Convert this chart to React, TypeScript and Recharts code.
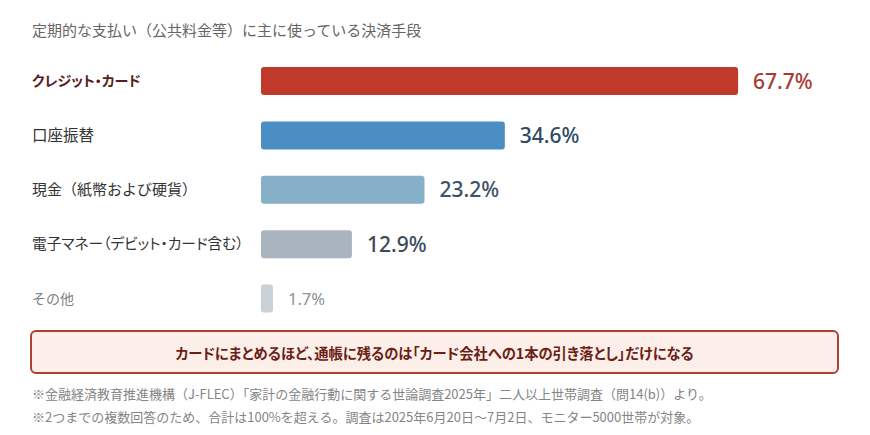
import React from 'react';
import { BarChart, Bar, XAxis, YAxis, Cell, LabelList } from 'recharts';

const categories = ['クレジット・カード', '口座振替', '現金（紙幣および硬貨）', '電子マネー（デビット・カード含む）', 'その他'];
const values = [67.7, 34.6, 23.2, 12.9, 1.7];
const barColors = ['#c0392b', '#4a8ec4', '#86afc8', '#a9b4bf', '#c9d0d6'];
const labelColors = ['#aa3a2f', '#2f4a63', '#3c5266', '#3c4a57', '#8a9299'];
const catColors = ['#5a1c1c', '#333333', '#333333', '#333333', '#808080'];
const catSizes = [14, 15.5, 15, 14.7, 14];
const catPalt = [true, false, false, true, false];

const title = '定期的な支払い（公共料金等）に主に使っている決済手段';
const callout = 'カードにまとめるほど、通帳に残るのは「カード会社への1本の引き落とし」だけになる';
const notes = [
  '※金融経済教育推進機構（J-FLEC）「家計の金融行動に関する世論調査2025年」二人以上世帯調査（問14(b)）より。',
  '※2つまでの複数回答のため、合計は100%を超える。調査は2025年6月20日～7月2日、モニター5000世帯が対象。',
];

const data = categories.map((name, i) => ({ name, value: values[i] }));

const JP = '"Noto Sans CJK JP", "Noto Sans", sans-serif';
const NUM = '"Noto Sans", "Open Sans", sans-serif';

const CatTick = (props: any) => {
  const { y, payload } = props;
  const i = categories.indexOf(payload.value);
  return (
    <text
      x={32}
      y={y}
      dy={5}
      textAnchor="start"
      fill={catColors[i]}
      fontSize={catSizes[i]}
      fontWeight={i === 0 ? 700 : 400}
      fontFamily={JP}
      style={catPalt[i] ? { fontFeatureSettings: '"palt"' } : undefined}
    >
      {payload.value}
    </text>
  );
};

const ValueLabel = (props: any) => {
  const { x, y, width, height, value, index } = props;
  const small = index === 4;
  return (
    <text
      x={x + width + 15}
      y={y + height / 2}
      dy={small ? 6 : 7.5}
      textAnchor="start"
      fill={labelColors[index]}
      fontSize={small ? 16.5 : 21}
      fontWeight={small ? 400 : 500}
      fontFamily={NUM}
    >
      {value}%
    </text>
  );
};

export default function App() {
  return (
    <div style={{ position: 'absolute', left: 0, top: 0, width: 870, height: 435, background: '#fff', overflow: 'hidden' }}>
      <div
        style={{
          position: 'absolute', left: 32, top: 19, fontSize: 15, color: '#666', fontFamily: JP,
          lineHeight: '22px', whiteSpace: 'nowrap',
        }}
      >
        {title}
      </div>
      <div style={{ position: 'absolute', left: 0, top: 0 }}>
        <BarChart
          width={870}
          height={435}
          data={data}
          layout="vertical"
          margin={{ top: 54, right: 10, bottom: 109, left: 32 }}
          barCategoryGap={0}
        >
          <XAxis type="number" domain={[0, 85]} hide />
          <YAxis
            type="category"
            dataKey="name"
            width={229}
            axisLine={false}
            tickLine={false}
            tick={<CatTick />}
            interval={0}
          />
          <Bar dataKey="value" barSize={28} radius={3} isAnimationActive={false}>
            {data.map((d, i) => (
              <Cell key={d.name} fill={barColors[i]} />
            ))}
            <LabelList dataKey="value" content={<ValueLabel />} />
          </Bar>
        </BarChart>
      </div>
      <div
        style={{
          position: 'absolute', left: 30, top: 330, width: 809, height: 44, boxSizing: 'border-box',
          border: '2px solid #a8432f', borderRadius: 6, background: '#fcefe9',
          display: 'flex', alignItems: 'center', justifyContent: 'center',
          fontFamily: JP, fontSize: 14.3, fontWeight: 700, color: '#6b2014', whiteSpace: 'nowrap',
          fontFeatureSettings: '"palt"',
        }}
      >
        {callout}
      </div>
      {notes.map((n, i) => (
        <div
          key={i}
          style={{
            position: 'absolute', left: 32, top: 384 + i * 23, fontSize: 13, color: '#858585',
            fontFamily: JP, lineHeight: '20px', whiteSpace: 'nowrap',
          }}
        >
          {n}
        </div>
      ))}
    </div>
  );
}
